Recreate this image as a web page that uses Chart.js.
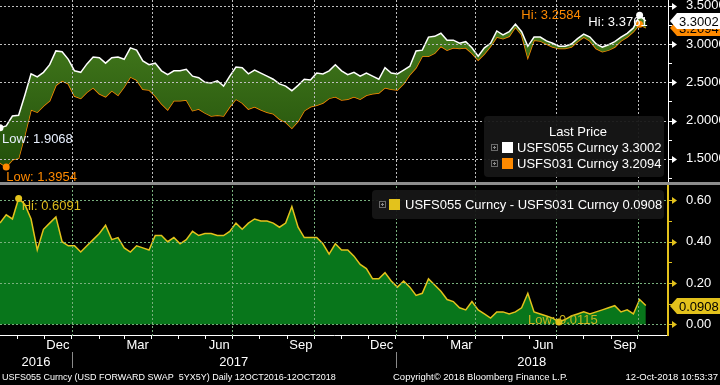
<!DOCTYPE html>
<html>
<head>
<meta charset="utf-8">
<script src="https://cdn.jsdelivr.net/npm/chart.js@4.4.0/dist/chart.umd.min.js"></script>
<style>
  html, body { margin: 0; padding: 0; background: #000; }
  body { width: 720px; height: 385px; position: relative; overflow: hidden;
         font-family: "Liberation Sans", Arial, sans-serif; color: #fff; }
  canvas { position: absolute; left: 0; }
  #topChart { top: 0; }
  #sep { position: absolute; left: 0; top: 182px; width: 720px; height: 3px; background: #8c8c8c; }
  #botChart { top: 185px; }
  .leg { position: absolute; background: rgba(22,22,22,0.94); border-radius: 4px; font-size: 13px; }
  .leg .t { position: absolute; white-space: nowrap; line-height: 16px; }
  .leg .sq { position: absolute; width: 11px; height: 11px; }
  .plus { position: absolute; width: 5px; height: 5px; border: 1px solid #6a6a6a; }
  .plus::before { content: ''; position: absolute; left: 1px; top: 2px; width: 3px; height: 1px; background: #8a8a8a; }
  .plus::after { content: ''; position: absolute; left: 2px; top: 1px; width: 1px; height: 3px; background: #8a8a8a; }
  .foot { position: absolute; top: 371px; line-height: 12px; white-space: nowrap; font-size: 9.5px; }
</style>
</head>
<body>
<canvas id="topChart" width="720" height="182"></canvas>
<div id="sep"></div>
<canvas id="botChart" width="720" height="200"></canvas>

<div class="leg" style="left:484px;top:116px;width:180px;height:61px">
  <div class="t" style="left:0;width:188px;text-align:center;top:8px">Last Price</div>
  <div class="plus" style="left:7px;top:28px"></div>
  <div class="sq" style="left:18px;top:26px;background:#fff"></div>
  <div class="t" id="legA" style="left:33px;top:24px"></div>
  <div class="plus" style="left:7px;top:44px"></div>
  <div class="sq" style="left:18px;top:42px;background:#ff8a00"></div>
  <div class="t" id="legB" style="left:33px;top:40px"></div>
</div>

<div class="leg" style="left:372px;top:190px;width:292px;height:29px">
  <div class="plus" style="left:7px;top:11px"></div>
  <div class="sq" style="left:17px;top:9px;background:#e3c21c"></div>
  <div class="t" id="legS" style="left:33px;top:7px"></div>
</div>

<div class="foot" style="left:2px;font-size:9px">USFS055 Curncy (USD FORWARD SWAP&nbsp; 5YX5Y) Daily 12OCT2016-12OCT2018</div>
<div class="foot" style="left:393px">Copyright© 2018 Bloomberg Finance L.P.</div>
<div class="foot" style="right:2px">12-Oct-2018 10:53:37</div>

<script>
// weekly closes, first point 12 Oct 2016, one point every 7 days
const START = Date.UTC(2016, 9, 12);
const STEP_DAYS = 7;

const USFS055 = [
  1.9068, 1.93, 2.06, 2.07, 2.33, 2.61, 2.57, 2.63, 2.73, 2.91,
  2.90, 2.80, 2.65, 2.63, 2.74, 2.83, 2.82, 2.75, 2.82, 2.83,
  2.80, 2.95, 2.92, 2.78, 2.73, 2.75, 2.65, 2.60, 2.65, 2.65,
  2.67, 2.58, 2.56, 2.50, 2.49, 2.52, 2.45, 2.58, 2.70, 2.69,
  2.61, 2.66, 2.62, 2.58, 2.54, 2.48, 2.45, 2.39, 2.46, 2.54,
  2.53, 2.62, 2.61, 2.65, 2.73, 2.65, 2.60, 2.63, 2.58, 2.62,
  2.58, 2.54, 2.69, 2.62, 2.61, 2.66, 2.71, 2.91, 2.92, 3.09,
  3.10, 3.14, 3.05, 3.05, 3.01, 3.03, 2.95, 2.84, 2.95, 3.01,
  3.17, 3.12, 3.16, 3.26, 3.16, 2.97, 3.09, 3.09, 3.04, 3.01,
  2.97, 2.97, 3.00, 3.07, 3.13, 3.09, 3.00, 2.96, 2.99, 3.03,
  3.09, 3.14, 3.21, 3.3761, 3.3002
];

const USFS031 = [
  1.45, 1.3954, 1.49, 1.51, 1.81, 2.14, 2.11, 2.19, 2.26, 2.46,
  2.52, 2.48, 2.32, 2.29, 2.37, 2.43, 2.35, 2.31, 2.39, 2.33,
  2.44, 2.57, 2.53, 2.41, 2.40, 2.32, 2.22, 2.14, 2.26, 2.26,
  2.27, 2.13, 2.15, 2.10, 2.06, 2.07, 2.06, 2.18, 2.28, 2.23,
  2.15, 2.18, 2.14, 2.11, 2.09, 2.02, 1.98, 1.90, 1.99, 2.13,
  2.18, 2.20, 2.23, 2.29, 2.31, 2.27, 2.28, 2.31, 2.28, 2.33,
  2.35, 2.36, 2.43, 2.41, 2.40, 2.48, 2.60, 2.69, 2.84, 2.84,
  2.88, 2.97, 2.92, 2.95, 2.94, 2.95, 2.88, 2.79, 2.87, 2.97,
  3.09, 3.07, 3.10, 3.22, 3.12, 2.82, 3.05, 3.04, 3.00, 2.96,
  2.94, 2.94, 2.96, 3.03, 3.09, 3.04, 2.94, 2.90, 2.92, 2.96,
  3.04, 3.09, 3.16, 3.2584, 3.2094
];

const SPREAD = [
  0.49, 0.53, 0.51, 0.6091, 0.58, 0.51, 0.36, 0.46, 0.49, 0.52,
  0.40, 0.38, 0.38, 0.35, 0.38, 0.41, 0.44, 0.48, 0.41, 0.42,
  0.37, 0.35, 0.38, 0.37, 0.36, 0.43, 0.43, 0.40, 0.42, 0.39,
  0.41, 0.45, 0.43, 0.44, 0.44, 0.43, 0.43, 0.45, 0.49, 0.46,
  0.49, 0.51, 0.50, 0.50, 0.49, 0.47, 0.49, 0.57, 0.47, 0.42,
  0.42, 0.42, 0.39, 0.34, 0.39, 0.36, 0.36, 0.33, 0.29, 0.27,
  0.22, 0.22, 0.25, 0.21, 0.18, 0.21, 0.18, 0.14, 0.15, 0.22,
  0.19, 0.16, 0.12, 0.11, 0.08, 0.07, 0.11, 0.07, 0.05, 0.03,
  0.06, 0.06, 0.05, 0.06, 0.08, 0.15, 0.06, 0.05, 0.04, 0.03,
  0.0115, 0.023, 0.04, 0.05, 0.06, 0.05, 0.06, 0.07, 0.08, 0.09,
  0.06, 0.07, 0.05, 0.12, 0.0908
];

const MONTH_NAMES = ['Jan', 'Feb', 'Mar', 'Apr', 'May', 'Jun', 'Jul', 'Aug', 'Sep', 'Oct', 'Nov', 'Dec'];
const LABELED_MONTHS = ['Dec', 'Mar', 'Jun', 'Sep'];
const YEAR_LABELS = ['2016', '2017', '2018'];
const TOP_TICKS = [1.25, 1.5, 1.75, 2.0, 2.25, 2.5, 2.75, 3.0, 3.25, 3.5];
const BOT_TICKS = [0.0, 0.1, 0.2, 0.3, 0.4, 0.5, 0.6];

const WHITE  = '#ffffff';
const ORANGE = '#ff8a00';
const YELLOW = '#e3c21c';

// per-panel look of the dotted grid and the right-axis tick marks
const PANEL = {
  topChart: { grid: 'rgb(190,190,190)', axis: WHITE, yStep: 0.5 },
  botChart: { grid: 'rgb(120,175,125)', axis: YELLOW, yStep: 0.2 }
};

const DAY = 86400000;
const dayOf = (y, m, d) => Math.round((Date.UTC(y, m, d) - START) / DAY);
const X_MAX = 753;

const MONTH_STARTS = [];
for (let y = 2016, m = 10; y < 2018 || m <= 9; m++) {
  if (m > 11) { m = 0; y++; }
  MONTH_STARTS.push({ day: dayOf(y, m, 1), month: m, year: y });
}
const QUARTER_DAYS = MONTH_STARTS.filter(t => t.month % 3 === 0).map(t => t.day);

const pts = values => values.map((v, i) => ({ x: i * STEP_DAYS, y: v }));
const last = arr => arr[arr.length - 1];

document.getElementById('legA').textContent = 'USFS055 Curncy ' + last(USFS055).toFixed(4);
document.getElementById('legB').textContent = 'USFS031 Curncy ' + last(USFS031).toFixed(4);
document.getElementById('legS').textContent = 'USFS055 Curncy - USFS031 Curncy ' + last(SPREAD).toFixed(4);

Chart.defaults.font.family = '"Liberation Sans", Arial, sans-serif';
Chart.defaults.font.size = 13;
Chart.defaults.color = '#fff';

const isMajor = (v, step) => Math.abs(v / step - Math.round(v / step)) < 1e-6;

// chart area must run edge to edge, so drop the label overhang padding
function noPad(s) {
  s.paddingTop = 0; s.paddingBottom = 0; s.paddingLeft = 0; s.paddingRight = 0;
}

// dotted grid over the fills, plus arrow ticks on the right axis
const panelGrid = {
  id: 'panelGrid',
  afterDatasetsDraw(chart) {
    const style = PANEL[chart.canvas.id];
    const ctx = chart.ctx;
    const a = chart.chartArea;
    const xs = chart.scales.x, ys = chart.scales.y;
    const top = Math.round(a.top), bottom = Math.round(a.bottom);
    const left = Math.round(a.left), right = Math.round(a.right);
    ctx.save();
    ctx.globalAlpha = 1;
    ctx.fillStyle = style.grid;
    QUARTER_DAYS.forEach(v => {
      const px = Math.round(xs.getPixelForValue(v));
      for (let y = top; y < bottom; y += 4) ctx.fillRect(px, y, 1, 2);
    });
    ys.ticks.forEach(t => {
      if (!isMajor(t.value, style.yStep)) return;
      const py = Math.round(ys.getPixelForValue(t.value));
      for (let x = left; x < right; x += 4) ctx.fillRect(x, py, 2, 1);
    });
    ctx.restore();
  },
  afterDraw(chart) {
    const style = PANEL[chart.canvas.id];
    const ctx = chart.ctx;
    const ys = chart.scales.y;
    const right = Math.round(chart.chartArea.right);
    ctx.save();
    ctx.fillStyle = style.axis;
    ys.ticks.forEach(t => {
      const py = Math.round(ys.getPixelForValue(t.value));
      if (isMajor(t.value, style.yStep)) {
        ctx.fillRect(right, py, 5, 1);
        ctx.beginPath();
        ctx.moveTo(right + 4, py - 3); ctx.lineTo(right + 9, py + 0.5); ctx.lineTo(right + 4, py + 4);
        ctx.closePath(); ctx.fill();
      } else {
        ctx.fillRect(right, py, 4, 1);
      }
    });
    ctx.restore();
  }
};

// high / low markers and last-value tags
const marks = {
  id: 'marks',
  afterDraw(chart, args, opts) {
    const { ctx } = chart;
    const xs = chart.scales.x, ys = chart.scales.y;
    ctx.save();
    ctx.font = '13px "Liberation Sans", Arial, sans-serif';
    ctx.textBaseline = 'middle';
    (opts.points || []).forEach(p => {
      const v = chart.data.datasets[p.ds].data[p.idx];
      const px = xs.getPixelForValue(v.x), py = ys.getPixelForValue(v.y);
      ctx.fillStyle = p.dot;
      ctx.beginPath(); ctx.arc(px, py, 3.5, 0, Math.PI * 2); ctx.fill();
      ctx.fillStyle = p.color;
      ctx.textAlign = p.align;
      ctx.fillText(p.prefix + v.y.toFixed(4), px + p.dx, py + p.dy);
    });
    (opts.tags || []).forEach(t => {
      const py = Math.round(ys.getPixelForValue(t.value));
      const x0 = chart.chartArea.right + 2;
      ctx.fillStyle = t.fill;
      ctx.beginPath();
      ctx.moveTo(x0, py); ctx.lineTo(x0 + 7, py - 8); ctx.lineTo(chart.width, py - 8);
      ctx.lineTo(chart.width, py + 8); ctx.lineTo(x0 + 7, py + 8); ctx.closePath(); ctx.fill();
      ctx.fillStyle = '#000';
      ctx.textAlign = 'left';
      ctx.fillText(t.value.toFixed(4), x0 + 9, py + 1);
    });
    ctx.restore();
  }
};

// year row under the month labels
const yearRow = {
  id: 'yearRow',
  afterDraw(chart) {
    const { ctx, chartArea } = chart;
    const xs = chart.scales.x;
    const bounds = [chartArea.left, xs.getPixelForValue(dayOf(2017, 0, 1)), xs.getPixelForValue(dayOf(2018, 0, 1)), chartArea.right];
    ctx.save();
    ctx.fillStyle = '#8a8a8a';
    [bounds[1], bounds[2]].forEach(b => {
      ctx.fillRect(Math.round(b), chartArea.bottom + 17, 1, 16);
    });
    ctx.fillStyle = '#fff';
    ctx.font = '13px "Liberation Sans", Arial, sans-serif';
    ctx.textAlign = 'center';
    ctx.textBaseline = 'middle';
    YEAR_LABELS.forEach((label, i) => {
      ctx.fillText(label, (bounds[i] + bounds[i + 1]) / 2, chartArea.bottom + 27);
    });
    ctx.restore();
  }
};

function topFill(c) {
  const area = c.chart.chartArea;
  if (!area) return '#356a16';
  const g = c.chart.ctx.createLinearGradient(0, area.top, 0, area.bottom);
  g.addColorStop(0, '#4a8220');
  g.addColorStop(1, '#1f4c09');
  return g;
}

const baseOpts = {
  responsive: false,
  animation: false,
  events: [],
  plugins: { legend: { display: false }, tooltip: { enabled: false } }
};

new Chart(document.getElementById('topChart'), {
  type: 'line',
  data: {
    datasets: [
      { label: 'USFS055 Curncy', data: pts(USFS055), borderColor: WHITE, borderWidth: 1.5,
        pointRadius: 0, tension: 0, fill: '+1', backgroundColor: topFill },
      { label: 'USFS031 Curncy', data: pts(USFS031), borderColor: ORANGE, borderWidth: 1.5,
        pointRadius: 0, tension: 0, fill: false }
    ]
  },
  options: {
    ...baseOpts,
    layout: { padding: 0, autoPadding: false },
    plugins: {
      ...baseOpts.plugins,
      marks: {
        points: [
          { ds: 0, idx: 0, prefix: 'Low: ', dot: WHITE, color: '#e8f0ff', align: 'left', dx: 2, dy: 12 },
          { ds: 1, idx: 1, prefix: 'Low: ', dot: ORANGE, color: ORANGE, align: 'left', dx: 0, dy: 11 },
          { ds: 1, idx: 103, prefix: 'Hi: ', dot: ORANGE, color: ORANGE, align: 'right', dx: -59, dy: -9 },
          { ds: 0, idx: 103, prefix: 'Hi: ', dot: WHITE, color: WHITE, align: 'right', dx: 8, dy: 7 }
        ],
        tags: [
          { value: last(USFS031), fill: ORANGE },
          { value: last(USFS055), fill: WHITE }
        ]
      }
    },
    scales: {
      x: {
        type: 'linear', min: 0, max: X_MAX,
        afterBuildTicks: s => { s.ticks = QUARTER_DAYS.map(v => ({ value: v })); },
        afterFit: s => { s.height = 0; noPad(s); },
        ticks: { display: false },
        grid: { display: false },
        border: { display: false }
      },
      y: {
        position: 'right', min: 1.1984, max: 3.5744,
        afterBuildTicks: s => { s.ticks = TOP_TICKS.map(v => ({ value: v })); },
        afterFit: s => { s.width = 52; noPad(s); },
        ticks: { autoSkip: false, padding: 10, color: WHITE,
                 callback: v => isMajor(v, 0.5) ? v.toFixed(4) : '' },
        grid: { display: false },
        border: { color: WHITE, width: 1 }
      }
    }
  },
  plugins: [panelGrid, marks]
});

new Chart(document.getElementById('botChart'), {
  type: 'line',
  data: {
    datasets: [
      { label: 'USFS055 Curncy - USFS031 Curncy', data: pts(SPREAD), borderColor: YELLOW, borderWidth: 1.5,
        pointRadius: 0, tension: 0, fill: 'origin', backgroundColor: '#08761b' }
    ]
  },
  options: {
    ...baseOpts,
    layout: { padding: { top: 1 }, autoPadding: false },
    plugins: {
      ...baseOpts.plugins,
      marks: {
        points: [
          { ds: 0, idx: 3, prefix: 'Hi: ', dot: YELLOW, color: '#dcbb1c', align: 'left', dx: 3, dy: 8 },
          { ds: 0, idx: 90, prefix: 'Low: ', dot: YELLOW, color: '#c9b21e', align: 'center', dx: 4, dy: -2 }
        ],
        tags: [ { value: last(SPREAD), fill: YELLOW } ]
      }
    },
    scales: {
      x: {
        type: 'linear', min: 0, max: X_MAX,
        afterBuildTicks: s => { s.ticks = MONTH_STARTS.map(t => ({ value: t.day })); },
        afterFit: s => { s.height = 50; noPad(s); },
        ticks: {
          autoSkip: false, maxRotation: 0, minRotation: 0, padding: -1, labelOffset: 13.5, color: WHITE,
          callback: v => {
            const name = MONTH_NAMES[new Date(START + v * DAY).getUTCMonth()];
            return LABELED_MONTHS.includes(name) ? name : '';
          }
        },
        grid: { drawOnChartArea: false, drawTicks: true, tickLength: 4, tickColor: WHITE, tickWidth: 1 },
        border: { display: true, color: WHITE, width: 1 }
      },
      y: {
        position: 'right', min: -0.0518, max: 0.6697,
        afterBuildTicks: s => { s.ticks = BOT_TICKS.map(v => ({ value: v })); },
        afterFit: s => { s.width = 52; noPad(s); },
        ticks: { autoSkip: false, padding: 10, color: WHITE,
                 callback: v => isMajor(v, 0.2) ? v.toFixed(2) : '' },
        grid: { display: false },
        border: { color: YELLOW, width: 2 }
      }
    }
  },
  plugins: [panelGrid, marks, yearRow]
});
</script>
</body>
</html>
